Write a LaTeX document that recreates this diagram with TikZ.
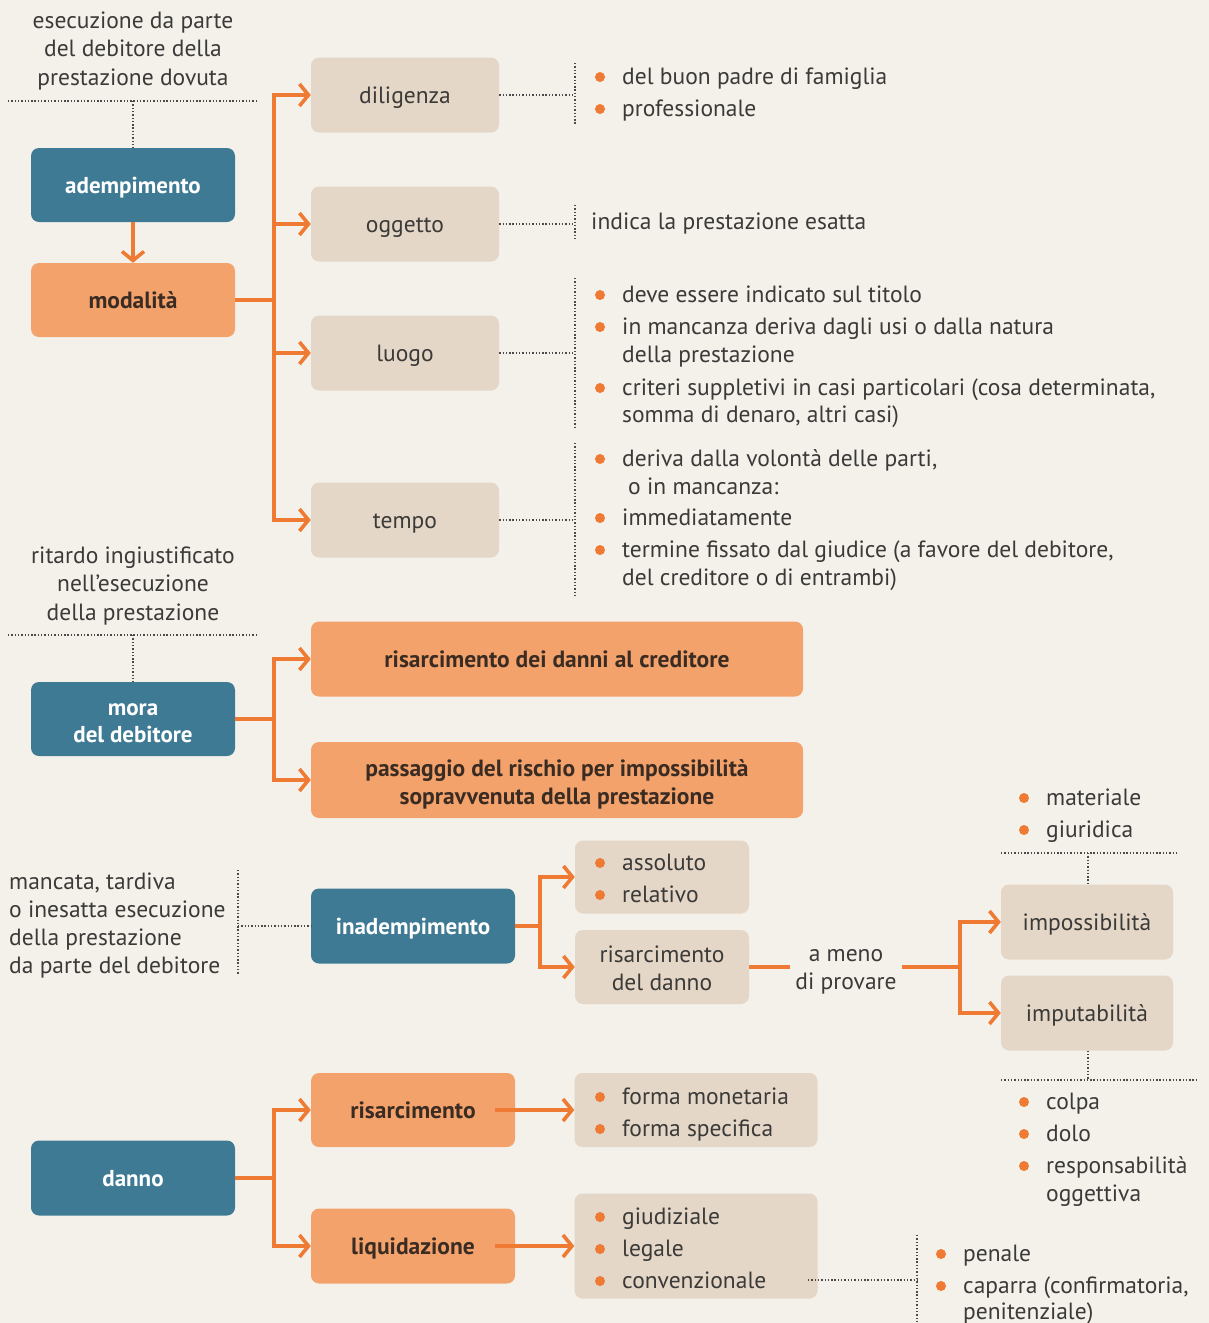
\documentclass[tikz,border=0pt]{standalone}
\usepackage{fontspec}
\setmainfont{PT Sans}
\usetikzlibrary{arrows.meta}
\definecolor{bg}{HTML}{F4F1EB}
\definecolor{txt}{HTML}{3B3A38}
\definecolor{boxblue}{HTML}{3F7A94}
\definecolor{boxorange}{HTML}{F4A26C}
\definecolor{boxbeige}{HTML}{E4D7C7}
\definecolor{lineor}{HTML}{EE7A33}
\definecolor{dotc}{HTML}{4A4A4A}
\definecolor{darktxt}{HTML}{3A2C22}
\newcommand\tl[3]{\node[tx,anchor=west] (#1) at (#2) {#3};}
\newcommand\bu[4]{\fill[lineor] (#2,#3) circle (5pt); \node[tx,anchor=west] (#1) at (#2+22,#3) {#4};}
\begin{document}
\begin{tikzpicture}[x=1pt,y=-1pt,
  every node/.style={text=txt},
  tx/.style={inner sep=0pt, text height=18pt, text depth=4pt, font=\fontsize{23.5}{28}\selectfont},
  hd/.style={inner sep=0pt, align=center, font=\fontsize{23.5}{28.5}\selectfont},
  box/.style={rounded corners=8pt, inner sep=0pt, align=center, font=\fontsize{23.5}{28}\selectfont},
  one/.style={text height=20pt, text depth=3pt},
  bluebox/.style={box, fill=boxblue, text=white, font=\fontsize{23}{27}\selectfont\bfseries},
  orbox/.style={box, fill=boxorange, text=darktxt, font=\fontsize{23.5}{28}\selectfont\bfseries},
  beigebox/.style={box, fill=boxbeige},
  conn/.style={draw=lineor, line width=3.6pt},
  arr/.style={conn, -{Straight Barb[length=9pt,width=22pt]}},
  dots/.style={draw=dotc, line width=1.6pt, dash pattern=on 1.4pt off 1.9pt}]
\path[use as bounding box, fill=bg] (0,0) rectangle (1209,1323);

% ---------- adempimento ----------
\node[hd] (h1) at (133,51) {esecuzione da parte\\del debitore della\\prestazione dovuta};
\node[bluebox, one, minimum width=204pt, minimum height=74pt] (adem) at (133,185) {adempimento};
\node[orbox, one, minimum width=204pt, minimum height=74pt] (moda) at (133,300) {modalità};
\node[beigebox, one, minimum width=188pt, minimum height=75pt] (dili) at (405,95) {diligenza};
\node[beigebox, one, minimum width=188pt, minimum height=75pt] (ogg) at (405,224) {oggetto};
\node[beigebox, one, minimum width=188pt, minimum height=75pt] (luogo) at (405,353) {luogo};
\node[beigebox, one, minimum width=188pt, minimum height=75pt] (tempo) at (405,520) {tempo};

\coordinate (d1a) at (8,101); \coordinate (d1b) at (258,101); \coordinate (d1c) at (133,101);
\draw[dots] (d1a) -- (d1b);
\draw[dots] (d1c) -- (adem.north);
\draw[arr] (adem.south) -- (moda.north);
\foreach \t in {dili,ogg,luogo,tempo}{\draw[conn] (moda.east) -- ++(39,0) |- ([xshift=-10pt]\t.west);
  \draw[arr] ([xshift=-30pt]\t.west) -- (\t.west);}

\coordinate (v1) at (575,95);  \draw[dots] (dili.east) -- (v1);  \draw[dots] (575,63) -- (575,124);
\coordinate (v2) at (575,224); \draw[dots] (ogg.east) -- (v2);   \draw[dots] (575,205) -- (575,240);
\coordinate (v3) at (575,353); \draw[dots] (luogo.east) -- (v3); \draw[dots] (575,278) -- (575,428);
\coordinate (v4) at (575,520); \draw[dots] (tempo.east) -- (v4); \draw[dots] (575,443) -- (575,595);

\bu{b1}{600}{77}{del buon padre di famiglia}
\bu{b2}{600}{109}{professionale}
\tl{t1}{591,222}{indica la prestazione esatta}
\bu{b3}{600}{295}{deve essere indicato sul titolo}
\bu{b4}{600}{327}{in mancanza deriva dagli usi o dalla natura}
\tl{t2}{622,355}{della prestazione}
\bu{b5}{600}{388}{criteri suppletivi in casi particolari (cosa determinata,}
\tl{t3}{622,415}{somma di denaro, altri casi)}
\bu{b6}{600}{459}{deriva dalla volontà delle parti,}
\tl{t4}{628,487}{o in mancanza:}
\bu{b7}{600}{518}{immediatamente}
\bu{b8}{600}{550}{termine fissato dal giudice (a favore del debitore,}
\tl{t5}{622,578}{del creditore o di entrambi)}

% ---------- mora ----------
\node[hd] (h2) at (133,586) {ritardo ingiustificato\\nell’esecuzione\\della prestazione};
\node[bluebox, minimum width=204pt, minimum height=74pt] (mora) at (133,719) {\rule{0pt}{20pt}mora\\del debitore};
\node[orbox, one, minimum width=492pt, minimum height=75pt] (risd) at (557,659) {risarcimento dei danni al creditore};
\node[orbox, minimum width=492pt, minimum height=76pt] (pass) at (557,780) {\rule{0pt}{25pt}passaggio del rischio per impossibilità\\sopravvenuta della prestazione};
\coordinate (d2a) at (8,635); \coordinate (d2b) at (258,635); \coordinate (d2c) at (133,635);
\draw[dots] (d2a) -- (d2b);
\draw[dots] (d2c) -- (mora.north);
\foreach \t in {risd,pass}{\draw[conn] (mora.east) -- ++(39,0) |- ([xshift=-10pt]\t.west);
  \draw[arr] ([xshift=-30pt]\t.west) -- (\t.west);}

% ---------- inadempimento ----------
\node[inner sep=0pt, align=left, font=\fontsize{23.5}{28}\selectfont, anchor=west] (h3) at (9,926) {mancata, tardiva\\o inesatta esecuzione\\della prestazione\\da parte del debitore};
\node[bluebox, one, minimum width=204pt, minimum height=75pt] (inad) at (413,926) {inadempimento};
\node[beigebox, minimum width=174pt, minimum height=73pt] (assrel) at (662,877) {};
\node[beigebox, minimum width=174pt, minimum height=74pt] (risdan) at (662,967) {\rule{0pt}{20pt}risarcimento\\del danno};
\coordinate (d3a) at (238,870); \coordinate (d3b) at (238,975); \coordinate (d3c) at (238,926);
\draw[dots] (d3a) -- (d3b);
\draw[dots] (d3c) -- (inad.west);
\foreach \t in {assrel,risdan}{\draw[conn] (inad.east) -- ++(25,0) |- ([xshift=-10pt]\t.west);
  \draw[arr] ([xshift=-30pt]\t.west) -- (\t.west);}
\bu{b9}{600}{863}{assoluto}
\bu{b10}{600}{895}{relativo}

\node[hd, inner sep=5pt] (ameno) at (846,972) {a meno\\di provare};
\draw[conn] (risdan.east) -- (risdan.east -| ameno.west);
\node[beigebox, one, minimum width=172pt, minimum height=75pt] (imposs) at (1087,922) {impossibilità};
\node[beigebox, one, minimum width=172pt, minimum height=75pt] (imput) at (1087,1013) {imputabilità};
\foreach \t in {imposs,imput}{\draw[conn] (ameno.east |- risdan.east) -- (960,967) |- ([xshift=-10pt]\t.west);
  \draw[arr] ([xshift=-30pt]\t.west) -- (\t.west);}

\bu{b11}{1024}{798}{materiale}
\bu{b12}{1024}{830}{giuridica}
\coordinate (d4a) at (1001,853); \coordinate (d4b) at (1176,853); \coordinate (d4c) at (1088,853);
\draw[dots] (d4a) -- (d4b);
\draw[dots] (d4c) -- (imposs.north -| d4c);
\coordinate (d5a) at (1001,1080); \coordinate (d5b) at (1198,1080); \coordinate (d5c) at (1088,1080);
\draw[dots] (imput.south -| d5c) -- (d5c);
\draw[dots] (d5a) -- (d5b);
\bu{b13}{1024}{1102}{colpa}
\bu{b14}{1024}{1134}{dolo}
\bu{b15}{1024}{1166}{responsabilità}
\tl{t6}{1046,1194}{oggettiva}

% ---------- danno ----------
\node[bluebox, one, minimum width=204pt, minimum height=75pt] (danno) at (133,1178) {danno};
\node[orbox, one, minimum width=204pt, minimum height=74pt] (risarc) at (413,1110) {risarcimento};
\node[orbox, one, minimum width=204pt, minimum height=75pt] (liquid) at (413,1246) {liquidazione};
\node[beigebox, minimum width=243pt, minimum height=74pt] (forma) at (696,1110) {};
\node[beigebox, minimum width=243pt, minimum height=105pt] (giud) at (696,1246) {};
\foreach \t in {risarc,liquid}{\draw[conn] (danno.east) -- ++(39,0) |- ([xshift=-10pt]\t.west);
  \draw[arr] ([xshift=-30pt]\t.west) -- (\t.west);}
\draw[arr] ([xshift=-20pt]risarc.east) -- (forma.west);
\draw[arr] ([xshift=-20pt]liquid.east) -- (giud.west);
\bu{b16}{600}{1097}{forma monetaria}
\bu{b17}{600}{1129}{forma specifica}
\bu{b18}{600}{1217}{giudiziale}
\bu{b19}{600}{1249}{legale}
\bu{b20}{600}{1281}{convenzionale}
\coordinate (d6a) at (808,1280); \coordinate (d6b) at (917,1280);
\draw[dots] (d6a) -- (d6b);
\draw[dots] (917,1235) -- (917,1323);
\bu{b21}{941}{1254}{penale}
\bu{b22}{941}{1286}{caparra (confirmatoria,}
\tl{t7}{963,1312}{penitenziale)}
\end{tikzpicture}
\end{document}
